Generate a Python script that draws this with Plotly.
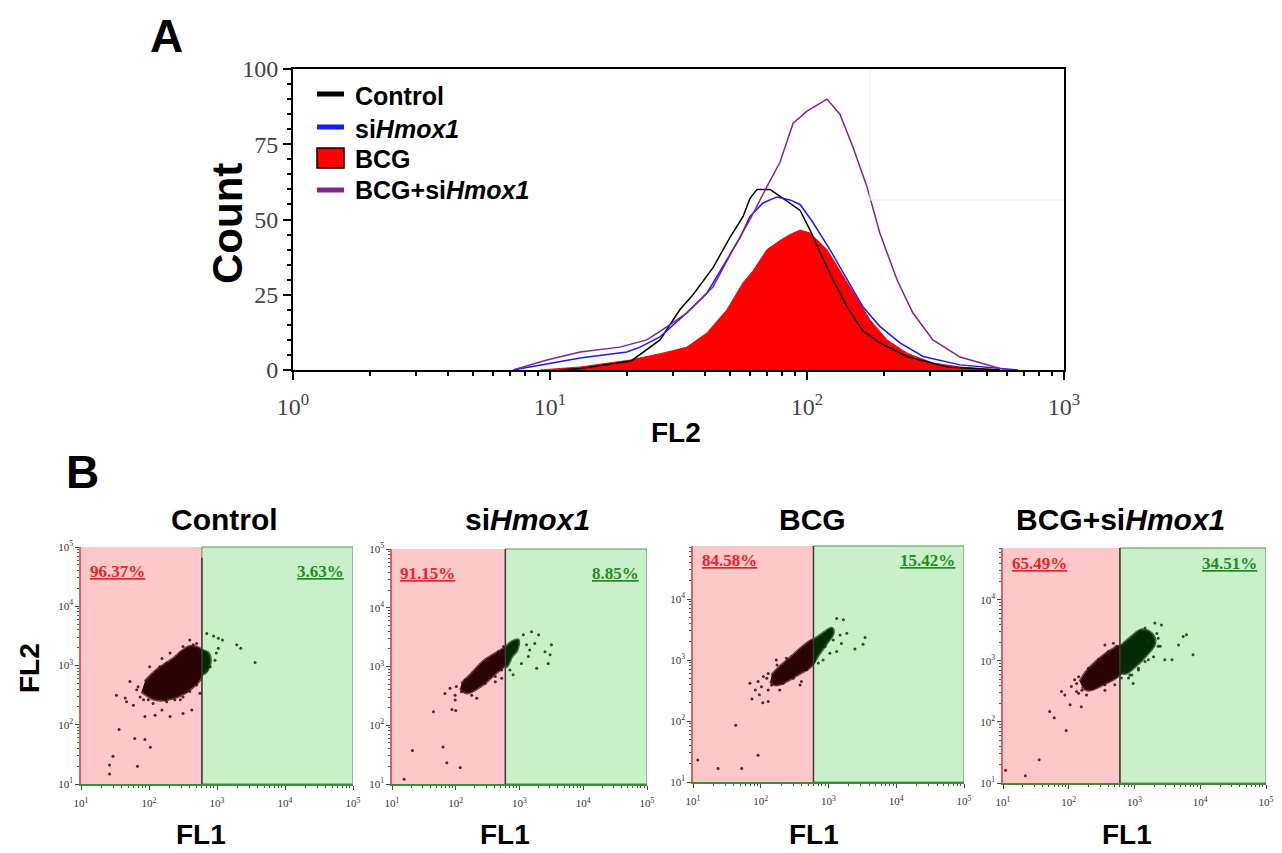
import plotly.graph_objects as go

W, H = 1282, 853
OFF = 8               # the page body margin places the figure 8 px from the top-left corner
FW, FH = W - OFF, H - OFF

# ---------------- Panel A: FL2 histograms (FL2 value, count) ----------------
ctrl_fl2 = [10.9, 13.1, 20.7, 26.8, 32.0, 36.0, 43.1, 50.1, 56.4, 60.0, 63.9, 71.8, 80.7, 94.0,
            102.8, 112.4, 126.2, 143.1, 165, 192, 245, 351, 564]
ctrl_count = [0, 0.5, 3, 10, 20, 25, 34, 44, 51, 57, 60, 60, 57, 53, 46.5, 39, 30, 21, 13, 9, 4.5, 1, 0]

si_fl2 = [7.18, 13.1, 19.9, 22.4, 26.8, 34.1, 40.8, 48.8, 54.9, 60.0, 67.4, 76.4, 85.9, 94.0,
          105.5, 122.8, 143.1, 165, 192, 230, 283, 394, 662]
si_count = [0, 4, 6, 7.6, 11, 19, 25.5, 36.5, 44, 51, 55.5, 57.5, 56.5, 55, 49, 40, 30, 21, 14.5, 9, 4.5, 1.7, 0]

bcg_fl2 = [9.14, 13.1, 20.5, 27.5, 34.1, 40.8, 48.8, 56.4, 61.7, 69.9, 78.5, 85.9, 94.0, 102.8,
           119.6, 134.3, 151, 176, 205, 245, 309, 394, 564]
bcg_count = [0, 1, 3.3, 5.6, 7.6, 12.3, 20, 29, 33, 40, 43, 45, 46.5, 45.5, 40, 33, 25.5, 16.6, 10, 5.6, 2.3, 1, 0]

bcgsi_fl2 = [7.18, 9.73, 13.1, 18.7, 23.8, 28.5, 34.1, 43.1, 51.5, 60.0, 69.9, 78.5, 88.3, 100,
             119.6, 134.3, 151, 171, 192, 224, 258, 309, 394, 564, 617]
bcgsi_count = [0, 3.3, 6, 7.6, 10, 14.3, 19, 27.6, 40, 50, 61, 69, 82, 86, 90, 85, 74, 61, 45.5, 30,
               19, 10, 4.3, 0.5, 0]

legend_names = ["Control", "si<i>Hmox1</i>", "BCG", "BCG+si<i>Hmox1</i>"]

# ---------------- Panel B: FL1/FL2 dot plots (values in log10 decades) ----------------
gate_fl1 = 600
panel_titles = ["Control", "si<i>Hmox1</i>", "BCG", "BCG+si<i>Hmox1</i>"]
left_pct = ["96.37%", "91.15%", "84.58%", "65.49%"]
right_pct = ["3.63%", "8.85%", "15.42%", "34.51%"]

ctrl_core_left_lx = [1.89, 2.11, 2.41, 2.65, 2.77, 2.77, 2.60, 2.36, 2.11, 1.94]
ctrl_core_left_ly = [2.56, 2.42, 2.47, 2.64, 2.81, 3.26, 3.32, 3.12, 2.92, 2.73]
ctrl_core_right_lx = [2.77, 2.87, 2.90, 2.82, 2.77]
ctrl_core_right_ly = [3.26, 3.21, 3.04, 2.87, 2.87]
ctrl_dots_lx = [1.72, 1.52, 1.65, 1.67, 1.77, 1.94, 2.09, 2.19, 2.31, 2.50, 2.63, 2.75, 1.56, 1.79,
                1.94, 2.02, 1.47, 1.42, 1.42, 1.83, 1.84, 1.87, 1.99, 2.26, 2.46, 2.55, 2.26, 2.46,
                2.65, 2.06, 2.16, 1.82, 1.92, 2.06, 2.24, 2.38, 2.50, 2.60, 2.70, 2.01, 2.19, 2.31,
                2.50, 2.70, 2.60,
                2.85, 2.95, 3.02, 3.08, 3.29, 3.35, 3.56, 2.99, 3.02, 2.97, 2.90, 2.85]
ctrl_dots_ly = [2.73, 2.50, 2.45, 2.39, 2.33, 2.14, 2.16, 2.25, 2.14, 2.19, 2.25, 2.53, 1.92, 1.77,
                1.75, 1.62, 1.47, 1.32, 1.17, 1.30, 2.64, 2.47, 2.42, 2.39, 2.42, 2.56, 3.04, 3.21,
                3.35, 2.81, 2.98, 2.59, 2.42, 2.36, 2.42, 2.42, 2.47, 2.56, 2.67, 2.98, 3.12, 3.21,
                3.32, 3.37, 3.43,
                3.54, 3.50, 3.46, 3.43, 3.35, 3.29, 3.05, 3.21, 3.29, 3.09, 2.98, 2.92]

si_core_left_lx = [2.07, 2.17, 2.41, 2.62, 2.77, 2.77, 2.67, 2.46, 2.25, 2.09]
si_core_left_ly = [2.63, 2.55, 2.68, 2.88, 3.03, 3.31, 3.25, 3.11, 2.88, 2.71]
si_core_right_lx = [2.77, 2.88, 2.98, 2.96, 2.88, 2.80, 2.77]
si_core_right_ly = [3.31, 3.42, 3.45, 3.28, 3.17, 3.00, 3.03]
si_dots_lx = [1.91, 1.83, 1.99, 1.99, 2.33, 2.62, 1.65, 1.94, 2.00, 1.32, 1.80, 1.86, 2.07, 1.19,
              2.72, 2.25, 2.01, 2.09, 2.25, 2.46, 2.62, 2.72, 2.15, 2.33, 2.51, 2.67, 2.75,
              3.06, 3.19, 3.30, 3.11, 3.16, 3.50, 3.40, 3.48, 3.45, 3.27, 2.90, 3.03, 2.85, 3.24, 3.14]
si_dots_ly = [2.63, 2.54, 2.51, 2.43, 2.46, 2.74, 2.23, 2.27, 2.25, 1.57, 1.63, 1.36, 1.28, 1.08,
              2.80, 2.51, 2.66, 2.57, 2.60, 2.71, 2.83, 2.94, 2.77, 2.94, 3.11, 3.25, 3.34,
              3.54, 3.59, 3.54, 3.37, 3.28, 3.37, 3.25, 3.20, 3.05, 2.97, 2.86, 3.05, 2.94, 3.39, 3.17]

bcg_core_left_lx = [2.14, 2.23, 2.53, 2.78, 2.78, 2.68, 2.48, 2.28, 2.16]
bcg_core_left_ly = [2.65, 2.59, 2.75, 2.95, 3.33, 3.27, 3.08, 2.89, 2.75]
bcg_core_right_lx = [2.78, 2.92, 3.05, 3.07, 2.97, 2.85, 2.78]
bcg_core_right_ly = [3.33, 3.44, 3.52, 3.44, 3.27, 3.08, 2.95]
bcg_dots_lx = [2.04, 1.96, 2.01, 2.11, 2.28, 2.58, 2.60, 1.84, 1.92, 1.98, 1.87, 2.03, 2.11, 1.63,
               1.96, 1.37, 1.72, 2.43, 2.23, 1.07, 2.09, 2.16, 2.33, 2.48, 2.68, 2.11, 2.24, 2.38,
               2.58, 2.73,
               3.12, 3.22, 3.27, 3.17, 3.19, 3.12, 3.02, 2.92, 2.85, 2.95, 3.39, 3.51, 3.54, 3.07]
bcg_dots_ly = [2.73, 2.65, 2.56, 2.51, 2.51, 2.59, 2.65, 2.62, 2.51, 2.43, 2.36, 2.30, 2.32, 1.93,
               1.44, 1.22, 1.22, 2.86, 3.00, 1.36, 2.70, 2.59, 2.62, 2.70, 2.84, 2.78, 2.92, 3.03,
               3.16, 3.30,
               3.68, 3.66, 3.44, 3.41, 3.27, 3.14, 3.11, 3.00, 2.95, 3.22, 3.18, 3.26, 3.37, 3.33]

bcgsi_core_left_lx = [2.20, 2.30, 2.55, 2.79, 2.79, 2.65, 2.45, 2.25, 2.17]
bcgsi_core_left_ly = [2.58, 2.52, 2.63, 2.80, 3.24, 3.18, 3.02, 2.80, 2.66]
bcgsi_core_right_lx = [2.79, 2.96, 3.11, 3.26, 3.31, 3.16, 3.01, 2.88, 2.79]
bcgsi_core_right_ly = [3.24, 3.40, 3.51, 3.45, 3.29, 3.07, 2.91, 2.80, 2.80]
bcgsi_dots_lx = [2.09, 2.04, 2.12, 2.27, 2.55, 2.70, 2.55, 2.68, 1.89, 1.94, 2.15, 2.02, 2.19, 1.71,
                 1.78, 1.96, 1.55, 1.34, 1.04, 2.50, 2.12, 2.20, 2.37, 2.55, 2.70, 2.15, 2.30, 2.45,
                 2.60, 2.73,
                 3.31, 3.41, 3.36, 3.39, 3.29, 3.16, 3.06, 2.96, 2.91, 2.98, 3.46, 3.57, 3.67, 3.74,
                 3.79, 3.89, 3.21, 2.80, 2.86, 2.86, 3.01, 3.16, 3.34, 3.36, 3.21, 3.06, 2.93]
bcgsi_dots_ly = [2.69, 2.58, 2.50, 2.44, 2.52, 2.61, 3.26, 3.29, 2.50, 2.44, 2.47, 2.28, 2.25, 2.17,
                 2.07, 1.86, 1.38, 1.12, 1.21, 2.85, 2.63, 2.52, 2.55, 2.61, 2.74, 2.74, 2.88, 3.02,
                 3.15, 3.24,
                 3.62, 3.59, 3.37, 3.24, 3.07, 2.99, 2.85, 2.77, 2.72, 2.63, 3.02, 3.02, 3.26, 3.40,
                 3.43, 3.10, 3.32, 2.72, 2.85, 3.29, 3.43, 3.54, 3.45, 3.24, 3.02, 2.88, 2.77]

panels = [
    (ctrl_core_left_lx, ctrl_core_left_ly, ctrl_core_right_lx, ctrl_core_right_ly, ctrl_dots_lx, ctrl_dots_ly),
    (si_core_left_lx, si_core_left_ly, si_core_right_lx, si_core_right_ly, si_dots_lx, si_dots_ly),
    (bcg_core_left_lx, bcg_core_left_ly, bcg_core_right_lx, bcg_core_right_ly, bcg_dots_lx, bcg_dots_ly),
    (bcgsi_core_left_lx, bcgsi_core_left_ly, bcgsi_core_right_lx, bcgsi_core_right_ly, bcgsi_dots_lx, bcgsi_dots_ly),
]

SANS = "Liberation Sans, Arial, sans-serif"
SERIF = "Liberation Serif, Times New Roman, serif"


def fx(px):
    return (px - OFF) / FW


def fy(py):
    return 1 - (py - OFF) / FH


def note(text, px, py, size, family=SANS, color="black", angle=0, xanchor="center"):
    return dict(text=text, x=fx(px), y=fy(py), xref="paper", yref="paper", showarrow=False,
                xanchor=xanchor, yanchor="middle", textangle=angle,
                font=dict(family=family, size=size, color=color))


fig = go.Figure()

# Panel A traces
fig.add_trace(go.Scatter(x=bcg_fl2, y=bcg_count, mode="lines", fill="tozeroy",
                         fillcolor="#ff0000", line=dict(color="#ff0000", width=1),
                         xaxis="x", yaxis="y"))
fig.add_trace(go.Scatter(x=ctrl_fl2, y=ctrl_count, mode="lines",
                         line=dict(color="#000000", width=1.5), xaxis="x", yaxis="y"))
fig.add_trace(go.Scatter(x=si_fl2, y=si_count, mode="lines",
                         line=dict(color="#1a1aff", width=1.5), xaxis="x", yaxis="y"))
fig.add_trace(go.Scatter(x=bcgsi_fl2, y=bcgsi_count, mode="lines",
                         line=dict(color="#85228f", width=1.5), xaxis="x", yaxis="y"))

# Panel B geometry: (left, right, top, bottom) px and y max (log decades)
boxes = [(81, 353, 547, 784, 5.0), (392, 647, 549, 784, 5.0),
         (693, 964, 546, 782, 4.87), (1003, 1266, 548, 783, 4.85)]
title_cx = [224, 527, 812, 1120]
fl1_cx = [201, 505, 814, 1127]
pct_y = [0.895, 0.895, 0.94, 0.935]
gate_top = [0.955, 1.0, 1.0, 1.0]

left_dot = "#3a0808"
right_dot = "#083a08"

shapes = []
annotations = []
layout_axes = {}

for i, (box, data) in enumerate(zip(boxes, panels)):
    n = i + 2
    xa, ya = f"x{n}", f"y{n}"
    l, r, t, b, ymax = box
    cl_x, cl_y, cr_x, cr_y, d_x, d_y = data
    fig.add_trace(go.Scatter(x=[10 ** v for v in cl_x], y=[10 ** v for v in cl_y], mode="lines",
                             fill="toself", fillcolor="#2a0404",
                             line=dict(color="rgba(50,6,6,0.7)", width=3, shape="spline"),
                             xaxis=xa, yaxis=ya))
    fig.add_trace(go.Scatter(x=[10 ** v for v in cr_x], y=[10 ** v for v in cr_y], mode="lines",
                             fill="toself", fillcolor="#042a06",
                             line=dict(color="rgba(6,50,8,0.7)", width=3, shape="spline"),
                             xaxis=xa, yaxis=ya))
    cols = [left_dot if 10 ** v < gate_fl1 else right_dot for v in d_x]
    fig.add_trace(go.Scatter(x=[10 ** v for v in d_x], y=[10 ** v for v in d_y], mode="markers",
                             marker=dict(size=3, color=cols, opacity=0.85), xaxis=xa, yaxis=ya))

    kmax = int(ymax)
    layout_axes[f"xaxis{n}"] = dict(
        domain=[fx(l), fx(r)], anchor=ya, type="log", range=[1, 5], automargin=False,
        tickvals=[10, 100, 1000, 10000, 100000],
        ticktext=["10<sup>1</sup>", "10<sup>2</sup>", "10<sup>3</sup>", "10<sup>4</sup>", "10<sup>5</sup>"],
        tickfont=dict(family=SERIF, size=11, color="#333"), ticks="outside", ticklen=4,
        tickcolor="#444", showline=True, linecolor="#3c8c3c", linewidth=2,
        minor=dict(ticks="outside", ticklen=2, dtick="D1", tickcolor="#555"),
        showgrid=False, zeroline=False, fixedrange=True, ticklabelstandoff=4)
    layout_axes[f"yaxis{n}"] = dict(
        domain=[fy(b), fy(t)], anchor=xa, type="log", range=[1, ymax], automargin=False,
        tickvals=[10 ** k for k in range(1, kmax + 1)],
        ticktext=[f"10<sup>{k}</sup>" for k in range(1, kmax + 1)],
        tickfont=dict(family=SERIF, size=11, color="#333"), ticks="outside", ticklen=4,
        tickcolor="#444", showline=True, linecolor="#e06060", linewidth=1.5,
        minor=dict(ticks="outside", ticklen=2, dtick="D1", tickcolor="#555"),
        showgrid=False, zeroline=False, fixedrange=True)

    shapes.append(dict(type="rect", xref=xa, yref=f"{ya} domain", x0=10, x1=gate_fl1, y0=0, y1=1,
                       fillcolor="#ffc8c8", line=dict(width=0), layer="below"))
    shapes.append(dict(type="rect", xref=xa, yref=f"{ya} domain", x0=gate_fl1, x1=1e5, y0=0, y1=1,
                       fillcolor="#c9f0c9", line=dict(color="#5f8f5f", width=1), layer="below"))
    shapes.append(dict(type="line", xref=xa, yref=f"{ya} domain", x0=gate_fl1, x1=gate_fl1,
                       y0=0, y1=gate_top[i], line=dict(color="#3a3a3a", width=1.5)))

    annotations.append(note(f"<b>{panel_titles[i]}</b>", title_cx[i], 519, 30))
    annotations.append(note("<b>FL1</b>", fl1_cx[i], 834, 28))
    annotations.append(dict(text=f"<b><u>{left_pct[i]}</u></b>", x=0.025, y=pct_y[i],
                            xref=f"{xa} domain", yref=f"{ya} domain", xanchor="left", yanchor="middle",
                            showarrow=False, font=dict(family=SERIF, size=17, color="#e8232a")))
    annotations.append(dict(text=f"<b><u>{right_pct[i]}</u></b>", x=0.975, y=pct_y[i],
                            xref=f"{xa} domain", yref=f"{ya} domain", xanchor="right", yanchor="middle",
                            showarrow=False, font=dict(family=SERIF, size=17, color="#1f8f1f")))

# Panel A legend (drawn in paper coordinates)
leg_line_y = [94, 127, None, 190]
leg_text_y = [96, 129, 159, 190]
leg_colors = ["#000000", "#1a1aff", None, "#85228f"]
for k in range(4):
    if k == 2:
        shapes.append(dict(type="rect", xref="paper", yref="paper", x0=fx(317), x1=fx(344),
                           y0=fy(168), y1=fy(148), fillcolor="#ff0000",
                           line=dict(color="black", width=1.5)))
    else:
        shapes.append(dict(type="line", xref="paper", yref="paper", x0=fx(317), x1=fx(344),
                           y0=fy(leg_line_y[k]), y1=fy(leg_line_y[k]),
                           line=dict(color=leg_colors[k], width=5)))
    annotations.append(note(f"<b>{legend_names[k]}</b>", 353, leg_text_y[k], 25, xanchor="left"))

# faint box in upper right of panel A
shapes.append(dict(type="line", xref="paper", yref="paper", x0=fx(870), x1=fx(870), y0=fy(70), y1=fy(200),
                   line=dict(color="#ebebeb", width=1)))
shapes.append(dict(type="line", xref="paper", yref="paper", x0=fx(870), x1=fx(1063), y0=fy(200), y1=fy(200),
                   line=dict(color="#ebebeb", width=1)))

annotations += [
    note("<b>A</b>", 166, 36, 46),
    note("<b>B</b>", 82, 472, 46),
    note("<b>Count</b>", 228, 224, 42, angle=-90),
    note("<b>FL2</b>", 676, 432, 28),
    note("<b>FL2</b>", 29, 668, 28, angle=-90),
]

fig.update_layout(
    width=FW, height=FH, autosize=False,
    margin=dict(l=0, r=0, t=0, b=0, pad=0, autoexpand=False),
    paper_bgcolor="white", plot_bgcolor="white", showlegend=False,
    xaxis=dict(domain=[fx(293), fx(1064)], anchor="y", type="log", range=[0, 3], automargin=False,
               tickvals=[1, 10, 100, 1000],
               ticktext=["10<sup>0</sup>", "10<sup>1</sup>", "10<sup>2</sup>", "10<sup>3</sup>"],
               tickfont=dict(family=SERIF, size=24, color="#444"), ticks="outside", ticklen=8,
               tickwidth=1.5, tickcolor="black", showline=True, linecolor="black", linewidth=2,
               mirror=True, minor=dict(ticks="outside", ticklen=4, dtick="D1", tickcolor="black"),
               showgrid=False, zeroline=False, ticklabelstandoff=6),
    yaxis=dict(domain=[fy(370), fy(69)], anchor="x", range=[0, 100], automargin=False,
               tickvals=[0, 25, 50, 75, 100],
               tickfont=dict(family=SERIF, size=24, color="#444"), ticks="outside", ticklen=8,
               tickwidth=1.5, tickcolor="black", showline=True, linecolor="black", linewidth=2,
               mirror=True, minor=dict(ticks="outside", ticklen=4, dtick=5, tickcolor="black"),
               showgrid=False, zeroline=False, ticklabelstandoff=0),
    shapes=shapes, annotations=annotations,
    **layout_axes,
)

fig.write_html("out.html")
